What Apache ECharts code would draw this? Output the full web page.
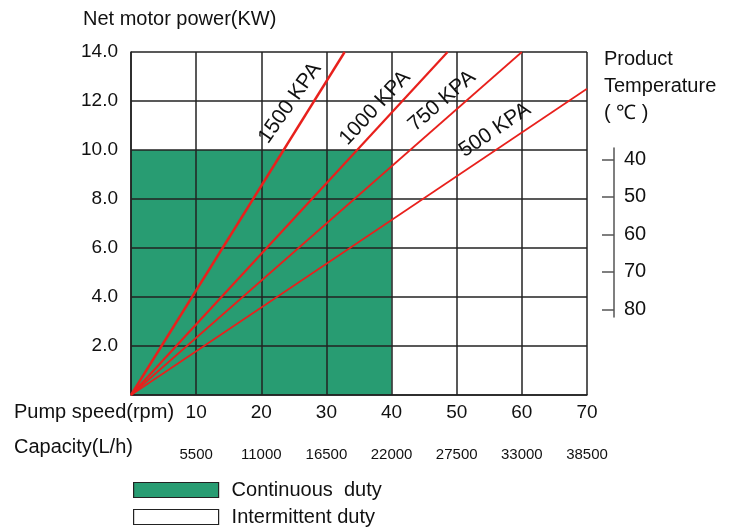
<!DOCTYPE html>
<html>
<head>
<meta charset="utf-8">
<script src="https://cdn.jsdelivr.net/npm/echarts@6/dist/echarts.min.js"></script>
<style>html,body{margin:0;padding:0;background:#fff}#c{width:739px;height:529px}</style>
</head>
<body>
<div id="c"></div>
<script>
// ---- data ----
var speedTicks = [0, 10, 20, 30, 40, 50, 60, 70];
var capacityLabels = ['', '5500', '11000', '16500', '22000', '27500', '33000', '38500'];
var powerTicks = [0, 2, 4, 6, 8, 10, 12, 14];
var tempTicks = [40, 50, 60, 70, 80];
var pressureNames = ['1500 KPA', '1000 KPA', '750 KPA', '500 KPA'];
var line1500 = [[0, 0], [32.8, 14]];
var line1000 = [[0, 0], [48.6, 14]];
var line750 = [[0, 0], [60, 14]];
var line500 = [[0, 0], [70, 12.5]];
var continuousDuty = [[0, 0, 40, 10]]; // x0, y0, x1, y1
var legendNames = ['Continuous  duty', 'Intermittent duty'];

var FONT = 'Liberation Sans, Arial, sans-serif';
var GREEN = '#289c72';
var RED = '#e8201c';
var chart = echarts.init(document.getElementById('c'));

function redLine(name, data, w) {
  return {
    name: name, type: 'line', data: data, symbol: 'none', z: 6,
    xAxisIndex: 0, yAxisIndex: 0, silent: true,
    lineStyle: { color: RED, width: w }, itemStyle: { color: RED }
  };
}

var option = {
  animation: false,
  backgroundColor: '#fff',
  textStyle: { fontFamily: FONT },
  grid: [
    { left: 131, right: 152, top: 52, bottom: 134, show: false },
    { left: 614, width: 1, top: 148, height: 169, show: false }
  ],
  legend: {
    orient: 'vertical', left: 133, top: 480, padding: 0, itemWidth: 85, itemHeight: 15, itemGap: 7,
    selectedMode: false,
    textStyle: { fontSize: 20, lineHeight: 20, color: '#111', fontFamily: FONT, padding: [0, 0, 0, 8] },
    data: [
      { name: legendNames[0], icon: 'rect', itemStyle: { color: GREEN, borderColor: '#222', borderWidth: 1.2 } },
      { name: legendNames[1], icon: 'rect', itemStyle: { color: '#fff', borderColor: '#222', borderWidth: 1.2 } }
    ]
  },
  xAxis: [
    {
      type: 'value', gridIndex: 0, min: speedTicks[0], max: speedTicks[speedTicks.length - 1], interval: 10, z: 4,
      axisLine: { show: true, lineStyle: { color: '#222', width: 1.5 } },
      axisTick: { show: false },
      splitLine: { show: true, showMinLine: true, showMaxLine: true, lineStyle: { color: '#222', width: 1.5 } },
      axisLabel: { margin: 8, fontSize: 19, color: '#111', fontFamily: FONT,
        formatter: function (v) { return v === 0 ? '' : String(v); } }
    },
    {
      type: 'value', gridIndex: 0, min: speedTicks[0], max: speedTicks[speedTicks.length - 1], interval: 10,
      position: 'bottom', offset: 44,
      axisLine: { show: false }, axisTick: { show: false }, splitLine: { show: false },
      axisLabel: { margin: 8, fontSize: 15, color: '#111', fontFamily: FONT,
        formatter: function (v) { return capacityLabels[Math.round(v / 10)] || ''; } }
    },
    { type: 'value', gridIndex: 1, show: false, min: 0, max: 1 }
  ],
  yAxis: [
    {
      type: 'value', gridIndex: 0, min: powerTicks[0], max: powerTicks[powerTicks.length - 1], interval: 2, z: 4,
      axisLine: { show: true, lineStyle: { color: '#222', width: 1.5 } },
      axisTick: { show: false },
      splitLine: { show: true, showMinLine: true, showMaxLine: true, lineStyle: { color: '#222', width: 1.5 } },
      axisLabel: { margin: 13, fontSize: 19, color: '#111', fontFamily: FONT,
        formatter: function (v) { return v === 0 ? '' : v.toFixed(1); } }
    },
    {
      type: 'value', gridIndex: 1, position: 'right', inverse: true, min: 37, max: 82,
      axisLine: { show: true, lineStyle: { color: '#555', width: 1.5 } },
      axisTick: { show: true, inside: true, length: 12, customValues: tempTicks, lineStyle: { color: '#555', width: 1.5 } },
      splitLine: { show: false },
      axisLabel: { margin: 9, fontSize: 20, color: '#111', fontFamily: FONT, customValues: tempTicks }
    }
  ],
  series: [
    {
      name: legendNames[0], type: 'custom', xAxisIndex: 0, yAxisIndex: 0, z: 1, silent: true,
      itemStyle: { color: GREEN },
      data: continuousDuty,
      renderItem: function (params, api) {
        var p0 = api.coord([api.value(0), api.value(3)]);
        var p1 = api.coord([api.value(2), api.value(1)]);
        return { type: 'rect', shape: { x: p0[0], y: p0[1], width: p1[0] - p0[0], height: p1[1] - p0[1] },
          style: { fill: GREEN } };
      }
    },
    {
      name: legendNames[1], type: 'custom', xAxisIndex: 0, yAxisIndex: 0, z: 1, silent: true,
      itemStyle: { color: '#fff' }, data: [],
      renderItem: function () { return null; }
    },
    redLine(pressureNames[0], line1500, 2.4),
    redLine(pressureNames[1], line1000, 2.2),
    redLine(pressureNames[2], line750, 1.7),
    redLine(pressureNames[3], line500, 1.7)
  ],
  graphic: [
    { type: 'text', left: 83, top: 9, style: { text: 'Net motor power(KW)', fontSize: 20, fill: '#111', fontFamily: FONT } },
    { type: 'text', left: 14, top: 402, style: { text: 'Pump speed(rpm)', fontSize: 20, fill: '#111', fontFamily: FONT } },
    { type: 'text', left: 14, top: 437, style: { text: 'Capacity(L/h)', fontSize: 20, fill: '#111', fontFamily: FONT } },
    { type: 'text', left: 604, top: 49, style: { text: 'Product', fontSize: 20, fill: '#111', fontFamily: FONT } },
    { type: 'text', left: 604, top: 76, style: { text: 'Temperature', fontSize: 20, fill: '#111', fontFamily: FONT } },
    { type: 'text', left: 604, top: 103, style: { text: '( ℃ )', fontSize: 20, fill: '#111', fontFamily: FONT } },
    { type: 'text', x: 290, y: 103, rotation: 55 * Math.PI / 180, z: 10,
      style: { text: pressureNames[0], fontSize: 21, fill: '#111', fontFamily: FONT, align: 'center', verticalAlign: 'middle' } },
    { type: 'text', x: 375, y: 108, rotation: 47 * Math.PI / 180, z: 10,
      style: { text: pressureNames[1], fontSize: 21, fill: '#111', fontFamily: FONT, align: 'center', verticalAlign: 'middle' } },
    { type: 'text', x: 442, y: 101, rotation: 41 * Math.PI / 180, z: 10,
      style: { text: pressureNames[2], fontSize: 21, fill: '#111', fontFamily: FONT, align: 'center', verticalAlign: 'middle' } },
    { type: 'text', x: 495, y: 130, rotation: 34 * Math.PI / 180, z: 10,
      style: { text: pressureNames[3], fontSize: 21, fill: '#111', fontFamily: FONT, align: 'center', verticalAlign: 'middle' } }
  ]
};
chart.setOption(option);
</script>
</body>
</html>
